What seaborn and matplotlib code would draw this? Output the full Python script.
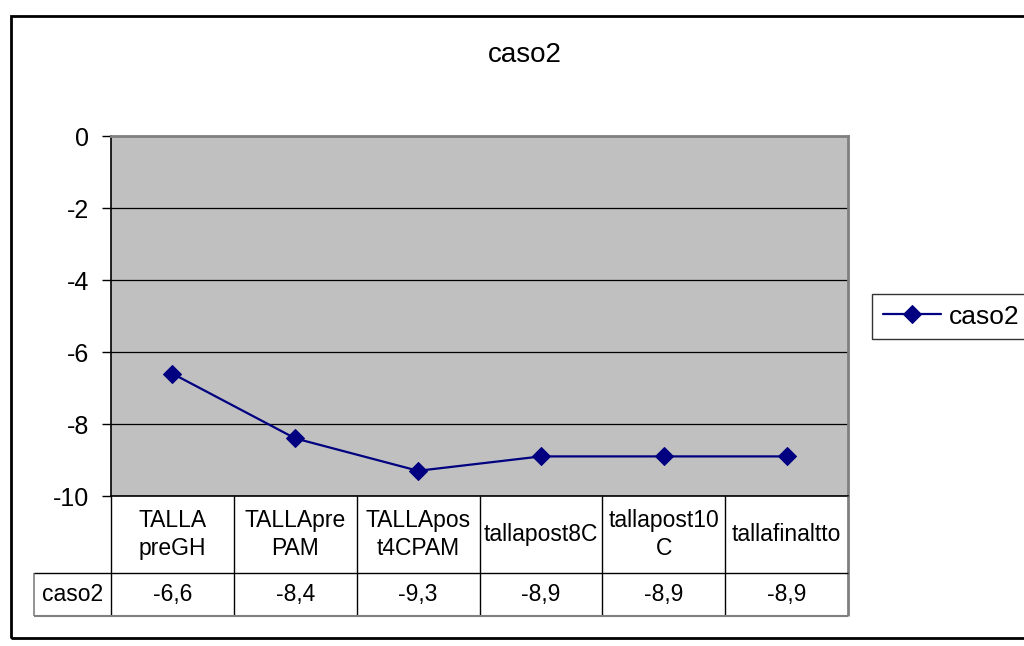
import matplotlib
matplotlib.use("Agg")
import matplotlib.pyplot as plt
import matplotlib.transforms as mtransforms
from matplotlib.patches import Rectangle
import pandas as pd
import seaborn as sns

# ---- data -------------------------------------------------------------
title = "caso2"
series_name = "caso2"
categories = ["TALLA\npreGH", "TALLApre\nPAM", "TALLApos\nt4CPAM",
              "tallapost8C", "tallapost10\nC", "tallafinaltto"]
values = [-6.6, -8.4, -9.3, -8.9, -8.9, -8.9]
y_ticks = [0, -2, -4, -6, -8, -10]

# ---- style ------------------------------------------------------------
sns.set_style("white")
plt.rcParams["font.family"] = ["Liberation Sans", "DejaVu Sans"]
plt.rcParams["axes.unicode_minus"] = False
for key in ("text.color", "axes.labelcolor", "xtick.color", "ytick.color"):
    plt.rcParams[key] = "black"

LINE_COLOR = "#000080"
GRAY = "#808080"

W, H = 1024, 646
fig = plt.figure(figsize=(W / 100, H / 100), dpi=100)


def fx(px):
    return px / W


def fy(py):
    return 1 - py / H


# plot area in pixel coordinates
L, R, T, B = 111, 848, 136, 496
ax = fig.add_axes([fx(L), fy(B), (R - L) / W, (B - T) / H])
ax.set_facecolor("#C0C0C0")

df = pd.DataFrame({"pos": range(len(values)), "value": values})
sns.lineplot(data=df, x="pos", y="value", color=LINE_COLOR, marker="D",
             markersize=9, markeredgecolor=LINE_COLOR, linewidth=1.6,
             label=series_name, ax=ax, zorder=3)

ax.set_xlim(-0.5, len(values) - 0.5)
ax.set_ylim(min(y_ticks), max(y_ticks))
ax.set_xticks([])
ax.set_yticks(y_ticks)
ax.set_yticklabels([str(t) for t in y_ticks])
ax.set_xlabel("")
ax.set_ylabel("")
ax.yaxis.grid(True, color="black", linewidth=0.9)
ax.xaxis.grid(False)
ax.tick_params(axis="y", left=True, length=6.5, width=1, color="black",
               direction="out", pad=9, labelsize=18, labelcolor="black")

for side in ("top", "right"):
    ax.spines[side].set_color(GRAY)
    ax.spines[side].set_linewidth(2)
for side in ("left", "bottom"):
    ax.spines[side].set_color("black")
    ax.spines[side].set_linewidth(1.2)

# ---- data table below the plot ------------------------------------------
tr = mtransforms.blended_transform_factory(ax.transData, ax.transAxes)
col_px = (R - L) / len(values)
y0 = 0.0
y1 = -(573 - B) / (B - T)
y2 = -(616 - B) / (B - T)
x_first = -0.5
x_last = len(values) - 0.5
x_label = x_first - (L - 34) / col_px


def seg(xs, ys, color="black", lw=1.0):
    ax.plot(xs, ys, color=color, linewidth=lw, transform=tr, clip_on=False,
            solid_capstyle="butt", zorder=5)


# vertical cell borders
for i in range(len(values)):
    seg([x_first + i, x_first + i], [y0, y2])
seg([x_last, x_last], [y0, y2], color=GRAY, lw=2)
seg([x_label, x_label], [y1, y2], color=GRAY, lw=1.2)
# horizontal cell borders
seg([x_label, x_last], [y1, y1])
seg([x_label, x_last], [y2, y2], color=GRAY, lw=1.5)

TABLE_FS = 16.5
for i, cat in enumerate(categories):
    ax.text(i, (y0 + y1) / 2, cat, transform=tr, ha="center", va="center",
            fontsize=TABLE_FS, linespacing=1.25, clip_on=False)
    ax.text(i, (y1 + y2) / 2, f"{values[i]:.1f}".replace(".", ","),
            transform=tr, ha="center", va="center", fontsize=TABLE_FS,
            clip_on=False)
ax.text((x_label + x_first) / 2, (y1 + y2) / 2, series_name, transform=tr,
        ha="center", va="center", fontsize=TABLE_FS, clip_on=False)

# ---- legend -------------------------------------------------------------
handles, labels = ax.get_legend_handles_labels()
ax.get_legend().remove()
leg = fig.legend(handles, labels, loc="upper left",
                 bbox_to_anchor=(fx(872), fy(294)), frameon=True,
                 fancybox=False, shadow=False, edgecolor="black",
                 fontsize=19, handlelength=2.2, handletextpad=0.3,
                 borderpad=0.4, borderaxespad=0)
leg.get_frame().set_linewidth(1.0)

# ---- title and outer chart frame -----------------------------------------
fig.text(fx(525), fy(55), title, ha="center", va="center", fontsize=20)
fig.add_artist(Rectangle((fx(11), fy(638)), (1040 - 11) / W, (638 - 16) / H,
                         transform=fig.transFigure, fill=False,
                         linewidth=2, edgecolor="black"))

fig.savefig("out.png", dpi=100, facecolor="white")
